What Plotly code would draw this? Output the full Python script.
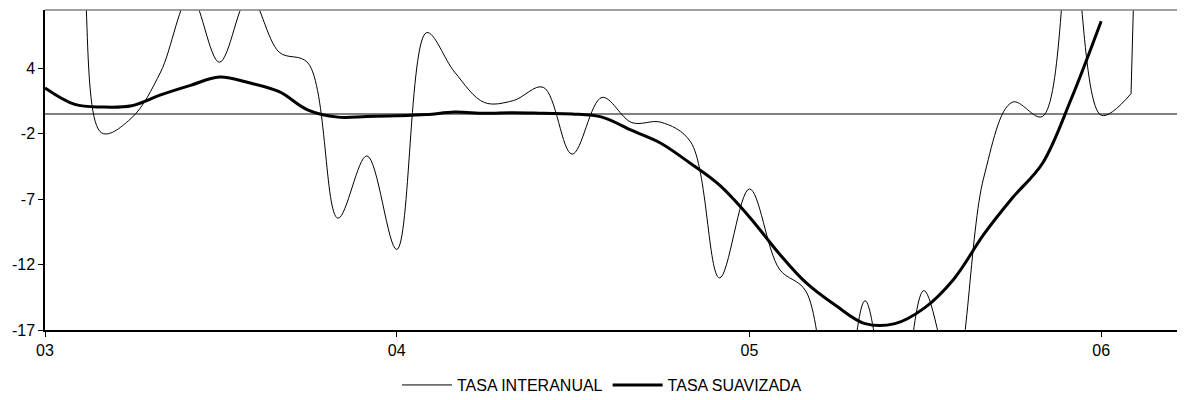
import pandas as pd
import plotly.graph_objects as go

# Monthly observations from Jan 2003
fechas_interanual = pd.date_range("2003-01-01", periods=39, freq="MS")
fechas_suavizada = pd.date_range("2003-01-01", periods=37, freq="MS")

tasa_interanual = [20, 17, -1.5, -0.3, 3.3, 9.3, 4.07, 9.3, 4.86, 4.0,
                   -8.2, -3.3, -10.66, 6.4, 3.3, 0.9, 1.05, 2.1, -3.16, 1.3,
                   -0.68, -0.65, -2.2, -12.9, -5.9, -12.2, -14.0, -28, -14.7, -26,
                   -13.9, -21, -5.05, 0.93, -0.2, 14, -0.1, 1.6, 80]

tasa_suavizada = [2.05, 0.75, 0.55, 0.65, 1.5, 2.25, 2.9, 2.45, 1.75, 0.3,
                  -0.25, -0.2, -0.15, -0.05, 0.15, 0.05, 0.1, 0.05, 0.0, -0.25,
                  -1.3, -2.3, -3.9, -5.6, -8.1, -11.0, -13.3, -15.1, -16.5, -16.5,
                  -15.3, -13.0, -9.5, -6.6, -3.9, 1.2, 7.3]

x_tickvals = ["2003-01-01", "2004-01-01", "2005-01-01", "2006-01-01"]
x_ticktext = ["03", "04", "05", "06"]

y_tickvals = [-17, -11.85, -6.7, -1.55, 3.6]
y_ticktext = ["-17", "-12", "-7", "-2", "4"]

fig = go.Figure()
fig.add_trace(go.Scatter(
    x=fechas_interanual[:-1], y=tasa_interanual[:-1], mode="lines",
    name="TASA INTERANUAL", legendgroup="interanual",
    line=dict(color="black", width=1, shape="spline", smoothing=1.0),
))
# final, almost vertical stretch of the same series
fig.add_trace(go.Scatter(
    x=fechas_interanual[-2:], y=tasa_interanual[-2:], mode="lines",
    name="TASA INTERANUAL", legendgroup="interanual", showlegend=False,
    line=dict(color="black", width=1),
))
fig.add_trace(go.Scatter(
    x=fechas_suavizada, y=tasa_suavizada, mode="lines",
    name="TASA SUAVIZADA",
    line=dict(color="black", width=3, shape="spline", smoothing=1.0),
))

font = dict(family="Liberation Sans, Arial, sans-serif", size=16, color="black")

fig.update_layout(
    width=1185, height=400,
    margin=dict(l=37, r=8, t=2, b=78),
    plot_bgcolor="white", paper_bgcolor="white",
    font=font,
    showlegend=True,
    legend=dict(orientation="h", x=0.4886, xanchor="center", y=-0.172, yanchor="middle",
                font=font, itemwidth=50),
    xaxis=dict(
        type="date", range=["2003-01-01", "2006-03-29"],
        tickvals=x_tickvals, ticktext=x_ticktext,
        showline=True, linecolor="black", linewidth=1.5,
        ticks="outside", ticklen=5, tickcolor="black", tickwidth=1,
        showgrid=False, zeroline=False,
    ),
    yaxis=dict(
        range=[-17, 8.18],
        tickvals=y_tickvals, ticktext=y_ticktext,
        showline=True, linecolor="black", linewidth=1.5,
        ticks="outside", ticklen=5, tickcolor="black", tickwidth=1,
        showgrid=False, zeroline=True, zerolinecolor="#808080", zerolinewidth=1.5,
    ),
    shapes=[dict(type="line", xref="paper", yref="paper", x0=0, x1=1, y0=1, y1=1,
                 line=dict(color="#808080", width=1.5))],
)

fig.write_html("out.html")
